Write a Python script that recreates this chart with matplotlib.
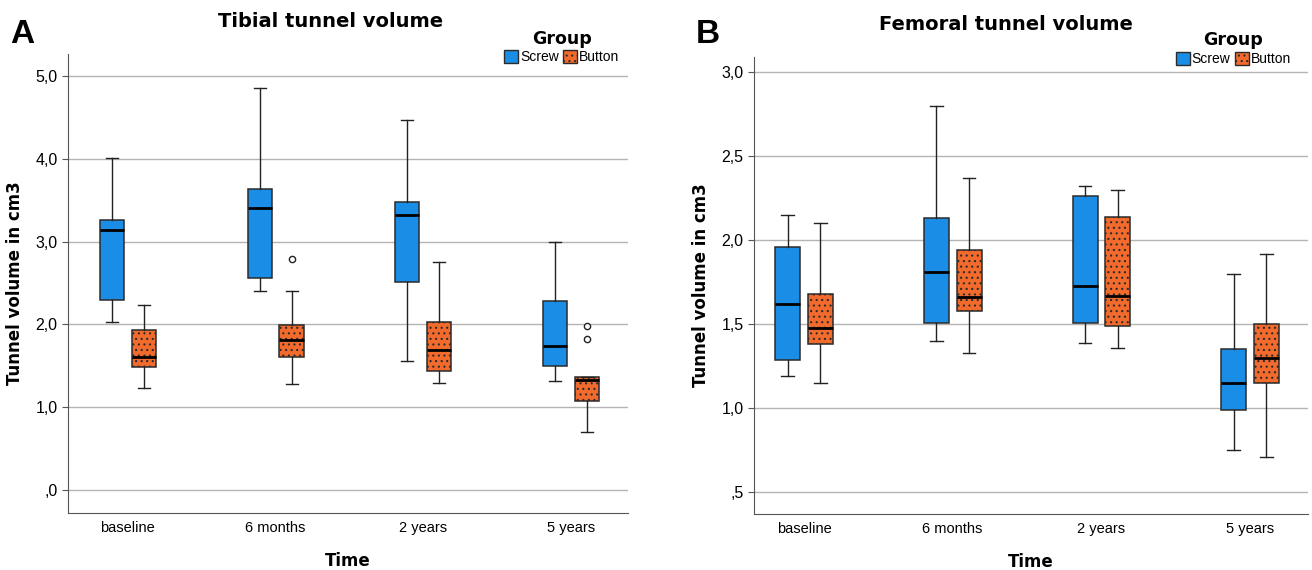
import matplotlib.pyplot as plt
from matplotlib.patches import Patch

times = ['baseline', '6 months', '2 years', '5 years']
groups = ['Screw', 'Button']
colors = ['#1a8ee6', '#f26b2c']

# tibial tunnel volume (cm3): whisker low, Q1, median, Q3, whisker high
tib_screw_lo = [2.03, 2.40, 1.56, 1.32]
tib_screw_q1 = [2.30, 2.56, 2.51, 1.50]
tib_screw_med = [3.14, 3.41, 3.32, 1.74]
tib_screw_q3 = [3.26, 3.64, 3.48, 2.28]
tib_screw_hi = [4.01, 4.86, 4.47, 3.00]
tib_screw_out = [[], [], [], []]

tib_button_lo = [1.23, 1.28, 1.29, 0.70]
tib_button_q1 = [1.49, 1.61, 1.44, 1.08]
tib_button_med = [1.61, 1.81, 1.69, 1.33]
tib_button_q3 = [1.93, 1.99, 2.03, 1.37]
tib_button_hi = [2.24, 2.40, 2.76, 1.37]
tib_button_out = [[], [2.79], [], [1.98, 1.82]]

# femoral tunnel volume (cm3)
fem_screw_lo = [1.19, 1.40, 1.39, 0.75]
fem_screw_q1 = [1.29, 1.51, 1.51, 0.99]
fem_screw_med = [1.62, 1.81, 1.73, 1.15]
fem_screw_q3 = [1.96, 2.13, 2.26, 1.35]
fem_screw_hi = [2.15, 2.80, 2.32, 1.80]
fem_screw_out = [[], [], [], []]

fem_button_lo = [1.15, 1.33, 1.36, 0.71]
fem_button_q1 = [1.38, 1.58, 1.49, 1.15]
fem_button_med = [1.48, 1.66, 1.67, 1.30]
fem_button_q3 = [1.68, 1.94, 2.14, 1.50]
fem_button_hi = [2.10, 2.37, 2.30, 1.92]
fem_button_out = [[], [], [], []]

tib_ticks = [0, 1, 2, 3, 4, 5]
tib_ticklabels = [',0', '1,0', '2,0', '3,0', '4,0', '5,0']
fem_ticks = [0.5, 1.0, 1.5, 2.0, 2.5, 3.0]
fem_ticklabels = [',5', '1,0', '1,5', '2,0', '2,5', '3,0']

bold_font = ['DejaVu Sans']


def make_stats(lo, q1, med, q3, hi, out):
    stats = []
    for i in range(len(lo)):
        stats.append({'whislo': lo[i], 'q1': q1[i], 'med': med[i],
                      'q3': q3[i], 'whishi': hi[i], 'fliers': out[i]})
    return stats


def draw_panel(ax, screw, button, offset, width, ticks, ticklabels, ylim, xlim):
    for k, stats in enumerate([screw, button]):
        pos = [i + (offset if k == 1 else -offset) for i in range(len(times))]
        bp = ax.bxp(stats, positions=pos, widths=width, patch_artist=True,
                    manage_ticks=False,
                    boxprops=dict(facecolor=colors[k], edgecolor='#2b2b2b', linewidth=1.1),
                    medianprops=dict(color='black', linewidth=2),
                    whiskerprops=dict(color='#222222', linewidth=1),
                    capprops=dict(color='#222222', linewidth=1),
                    flierprops=dict(marker='o', markersize=4.5, markerfacecolor='white',
                                    markeredgecolor='#222222', markeredgewidth=1))
        if k == 1:
            for b in bp['boxes']:
                b.set_hatch('...')
    ax.set_xticks(range(len(times)))
    ax.set_xticklabels(times, fontsize=10.5)
    ax.tick_params(axis='x', length=0, pad=6)
    ax.set_yticks(ticks)
    ax.set_yticklabels(ticklabels, fontsize=11.5)
    ax.tick_params(axis='y', length=4, width=0.8, color='#555555')
    ax.yaxis.grid(True, color='#b4b4b4', linewidth=1)
    ax.set_axisbelow(True)
    ax.set_ylim(ylim)
    ax.set_xlim(xlim)
    ax.spines['top'].set_visible(False)
    ax.spines['right'].set_visible(False)
    ax.spines['left'].set_color('#555555')
    ax.spines['bottom'].set_color('#555555')
    ax.set_xlabel('Time', fontsize=12, fontweight='bold', family=bold_font, labelpad=12)
    ax.set_ylabel('Tunnel volume in cm3', fontsize=12, fontweight='bold', family=bold_font, labelpad=8)


plt.rcParams['font.family'] = ['Liberation Sans', 'DejaVu Sans']
plt.rcParams['hatch.color'] = '#5a2410'
plt.rcParams['hatch.linewidth'] = 0.8

fig = plt.figure(figsize=(13.12, 5.7), dpi=100)
ax1 = fig.add_axes([0.0518, 0.1, 0.4268, 0.805])
ax2 = fig.add_axes([0.5747, 0.098, 0.4223, 0.802])

draw_panel(ax1,
           make_stats(tib_screw_lo, tib_screw_q1, tib_screw_med, tib_screw_q3, tib_screw_hi, tib_screw_out),
           make_stats(tib_button_lo, tib_button_q1, tib_button_med, tib_button_q3, tib_button_hi, tib_button_out),
           0.108, 0.163, tib_ticks, tib_ticklabels, (-0.28, 5.27), (-0.406, 3.386))
draw_panel(ax2,
           make_stats(fem_screw_lo, fem_screw_q1, fem_screw_med, fem_screw_q3, fem_screw_hi, fem_screw_out),
           make_stats(fem_button_lo, fem_button_q1, fem_button_med, fem_button_q3, fem_button_hi, fem_button_out),
           0.11, 0.168, fem_ticks, fem_ticklabels, (0.37, 3.09), (-0.336, 3.39))

fig.text(0.252, 0.962, 'Tibial tunnel volume', fontsize=14, fontweight='bold', family=bold_font,
         ha='center', va='center')
fig.text(0.767, 0.957, 'Femoral tunnel volume', fontsize=14, fontweight='bold', family=bold_font,
         ha='center', va='center')
fig.text(0.008, 0.94, 'A', fontsize=24, fontweight='bold', ha='left', va='center')
fig.text(0.530, 0.94, 'B', fontsize=24, fontweight='bold', ha='left', va='center')

handles = [Patch(facecolor=colors[0], edgecolor='#2b2b2b'),
           Patch(facecolor=colors[1], edgecolor='#2b2b2b', hatch='...')]
for cx, cy in [(0.428, 0.925), (0.940, 0.922)]:
    leg = fig.legend(handles, groups, title='Group', ncol=2, frameon=False,
                     loc='upper center', bbox_to_anchor=(cx, cy + 0.04),
                     fontsize=10, handlelength=1.0, handleheight=1.0,
                     handletextpad=0.15, columnspacing=0.3, borderpad=0.2,
                     labelspacing=0.2)
    leg.get_title().set_fontweight('bold')
    leg.get_title().set_fontsize(12.5)
    leg.get_title().set_family(bold_font)

plt.savefig('out.png', dpi=100)
